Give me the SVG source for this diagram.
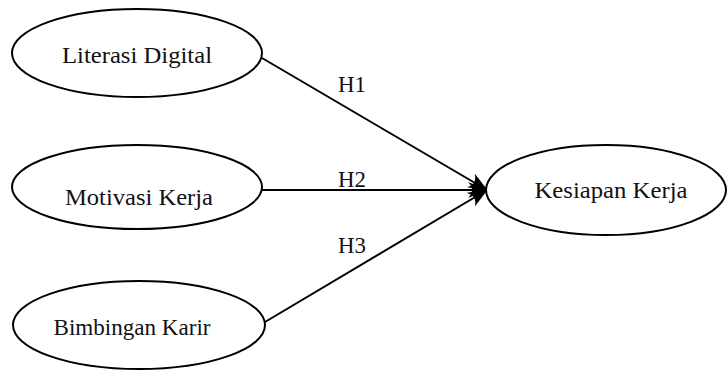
<svg xmlns="http://www.w3.org/2000/svg" width="728" height="370" viewBox="0 0 728 370">
<style>
.node ellipse{fill:#fff;stroke:#000;stroke-width:2}
text{font-family:"Liberation Serif","Times New Roman",serif;fill:#111;font-size:23px}
.lbl{text-anchor:middle}
.conn line{stroke:#000;stroke-width:2}
</style>
<defs>
<marker id="arrow" viewBox="0 0 20 16" refX="19" refY="8" markerWidth="20" markerHeight="16" markerUnits="userSpaceOnUse" orient="auto">
<path d="M0,0 Q8,8 0,16 L20,8 Z" fill="#000"/>
</marker>
</defs>
<rect width="728" height="370" fill="#fff"/>
<g id="connectors" class="conn">
<line x1="262" y1="58" x2="487" y2="190" marker-end="url(#arrow)"/>
<line x1="262" y1="190" x2="487" y2="190" marker-end="url(#arrow)"/>
<line x1="265" y1="322" x2="487" y2="190" marker-end="url(#arrow)"/>
<text x="338" y="92" textLength="28" lengthAdjust="spacingAndGlyphs">H1</text>
<text x="338" y="187" textLength="28" lengthAdjust="spacingAndGlyphs">H2</text>
<text x="338" y="253" textLength="28" lengthAdjust="spacingAndGlyphs">H3</text>
</g>
<g id="literasi" class="node">
<ellipse cx="137" cy="53" rx="125" ry="44"/>
<text class="lbl" x="137" y="63" textLength="150" lengthAdjust="spacingAndGlyphs">Literasi Digital</text>
</g>
<g id="motivasi" class="node">
<ellipse cx="137" cy="187" rx="125" ry="42"/>
<text class="lbl" x="139" y="205" textLength="148" lengthAdjust="spacingAndGlyphs">Motivasi Kerja</text>
</g>
<g id="bimbingan" class="node">
<ellipse cx="139" cy="325" rx="126" ry="44"/>
<text class="lbl" x="132" y="335" textLength="157" lengthAdjust="spacingAndGlyphs">Bimbingan Karir</text>
</g>
<g id="kesiapan" class="node">
<ellipse cx="606" cy="190" rx="120" ry="45"/>
<text class="lbl" x="611" y="198" textLength="153" lengthAdjust="spacingAndGlyphs">Kesiapan Kerja</text>
</g>
</svg>
